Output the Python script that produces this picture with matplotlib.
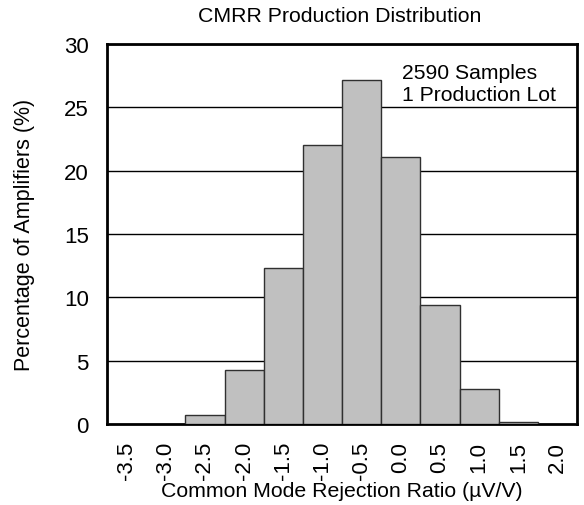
import numpy as np
import matplotlib.pyplot as plt

plt.rcParams['font.family'] = ['Liberation Sans', 'DejaVu Sans']

# bin centres (uV/V) and percentage of amplifiers in each bin
bin_labels = ['-3.5', '-3.0', '-2.5', '-2.0', '-1.5', '-1.0', '-0.5',
              '0.0', '0.5', '1.0', '1.5', '2.0']
percent = [0.0, 0.0, 0.7, 4.25, 12.3, 22.0, 27.2, 21.05, 9.4, 2.8, 0.18, 0.0]

fig = plt.figure(figsize=(5.84, 5.06), dpi=100)
ax = fig.add_axes([0.1832, 0.160, 0.805, 0.751])

x = np.arange(len(bin_labels))
ax.bar(x, percent, width=1.0, color='#c0c0c0', edgecolor='#303030',
       linewidth=1.0, zorder=3)

ax.set_xlim(-0.5, len(bin_labels) - 0.5)
ax.set_ylim(0, 30)
ax.set_yticks(range(0, 31, 5))
ax.set_xticks(x)
ax.set_xticklabels(bin_labels, rotation=90)
ax.tick_params(axis='both', length=0, labelsize=16)
ax.tick_params(axis='x', pad=12)
ax.tick_params(axis='y', pad=13)

ax.yaxis.grid(True, color='black', linewidth=1.0, zorder=0)
ax.set_axisbelow(True)
for s in ax.spines.values():
    s.set_linewidth(2)
    s.set_color('black')

ax.set_xlabel('Common Mode Rejection Ratio (µV/V)', fontsize=15.3)
ax.xaxis.set_label_coords(0.5, -0.150)
ax.set_ylabel('Percentage of Amplifiers (%)', fontsize=15.5)
ax.yaxis.set_label_coords(-0.153, 0.5)
fig.text(0.582, 0.968, 'CMRR Production Distribution', ha='center',
         va='center', fontsize=15.3)
ax.text(0.628, 0.910, '2590 Samples', transform=ax.transAxes,
        ha='left', va='baseline', fontsize=15.2)
ax.text(0.628, 0.853, '1 Production Lot', transform=ax.transAxes,
        ha='left', va='baseline', fontsize=15.2)

fig.savefig('out.png', dpi=100)
